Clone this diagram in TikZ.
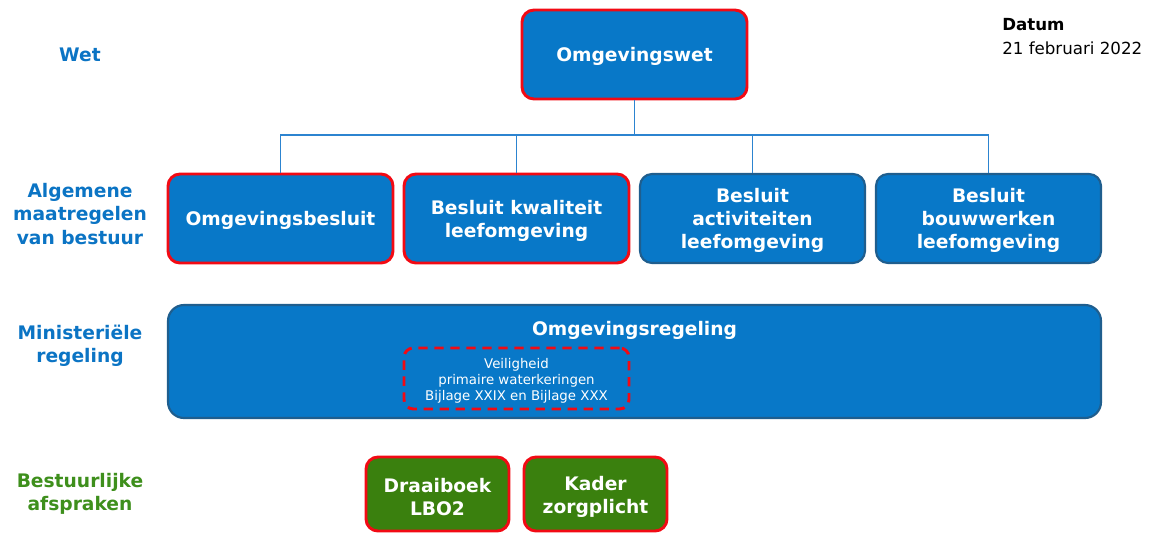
\documentclass[tikz,border=0pt]{standalone}
\usepackage{fontspec}
\setmainfont{DejaVu Sans}
\begin{document}
\begin{tikzpicture}[x=0.75pt,y=-0.75pt,
  bf/.style={font=\bfseries\fontsize{14}{17.3}\selectfont},
  box/.style={draw, rounded corners=9pt, fill=boxblue, inner sep=0pt,
     minimum width=168.75pt, minimum height=66.75pt},
  txt/.style={bf, text=white, align=center, yshift=-1.6pt},
  redbox/.style={box, draw=bred, line width=2.2pt},
  bluebox/.style={box, draw=bdark, line width=1.6pt},
  greenbox/.style={box, fill=bgreen, draw=bred, line width=2.2pt, minimum width=107.25pt, minimum height=55.5pt},
  lvl/.style={bf, align=center, text=lblue},
  conn/.style={draw=lineblue, line width=1.1pt}]
\definecolor{boxblue}{HTML}{0878C8}
\definecolor{bdark}{HTML}{1F5E8E}
\definecolor{bred}{HTML}{F20A14}
\definecolor{bgreen}{HTML}{3A800E}
\definecolor{lblue}{HTML}{0B74C4}
\definecolor{lgreen}{HTML}{3E8F1C}
\definecolor{lineblue}{HTML}{2C84D0}
\useasboundingbox (0,0) rectangle (1152,533);
% level labels
\node[lvl] (lwet) at (80,55) {Wet};
\node[lvl] (lamvb) at (80,214) {Algemene\\maatregelen\\van bestuur};
\node[lvl] (lmr) at (80,346) {Ministeriële\\regeling};
\node[lvl, text=lgreen] (lba) at (80,494) {Bestuurlijke\\afspraken};
% date
\node[anchor=north west, inner sep=0pt, align=left, font=\fontsize{12.5}{18}\selectfont] (datum) at (1002,18.5) {\textbf{Datum}\\21 februari 2022};
% top
\node[redbox] (wet) at (634.5,54.5) {};
\node[txt] (wett) at (wet) {Omgevingswet};
% row 2 boxes
\node[redbox] (b1) at (280.5,218.5) {};
\node[redbox] (b2) at (516.5,218.5) {};
\node[bluebox] (b3) at (752.5,218.5) {};
\node[bluebox] (b4) at (988.5,218.5) {};
\node[txt] (b1t) at (b1) {Omgevingsbesluit};
\node[txt] (b2t) at (b2) {Besluit kwaliteit\\leefomgeving};
\node[txt] (b3t) at (b3) {Besluit\\activiteiten\\leefomgeving};
\node[txt] (b4t) at (b4) {Besluit\\bouwwerken\\leefomgeving};
% connectors
\coordinate (bus) at (634.5,135);
\draw[conn] (wet.south) -- (bus);
\draw[conn] (b1.north) |- (bus) -| (b4.north);
\draw[conn] (b2.north) -- (b2.north |- bus);
\draw[conn] (b3.north) -- (b3.north |- bus);
% regeling
\node[bluebox, rounded corners=12pt, minimum width=699.75pt, minimum height=84.75pt] (reg) at (634.5,361.5) {};
\node[bf, text=white, anchor=base] (regt) at (634.5,335) {Omgevingsregeling};
\node[draw=bred, line width=2.2pt, dash pattern=on 7pt off 5pt, rounded corners=7pt,
      minimum width=168.75pt, minimum height=45.75pt, inner sep=0pt] (vpw) at (516.5,378.5) {};
\node[font=\fontsize{10}{12}\selectfont, text=white, align=center, yshift=-1.4pt] (vpwt) at (vpw) {Veiligheid\\primaire waterkeringen\\Bijlage XXIX en Bijlage XXX};
% green
\node[greenbox] (g1) at (437.5,494) {};
\node[greenbox] (g2) at (595.5,494) {};
\node[txt, yshift=-0.8pt] (g1t) at (g1) {Draaiboek\\LBO2};
\node[txt, yshift=-0.8pt] (g2t) at (g2) {Kader\\zorgplicht};
\end{tikzpicture}
\end{document}
